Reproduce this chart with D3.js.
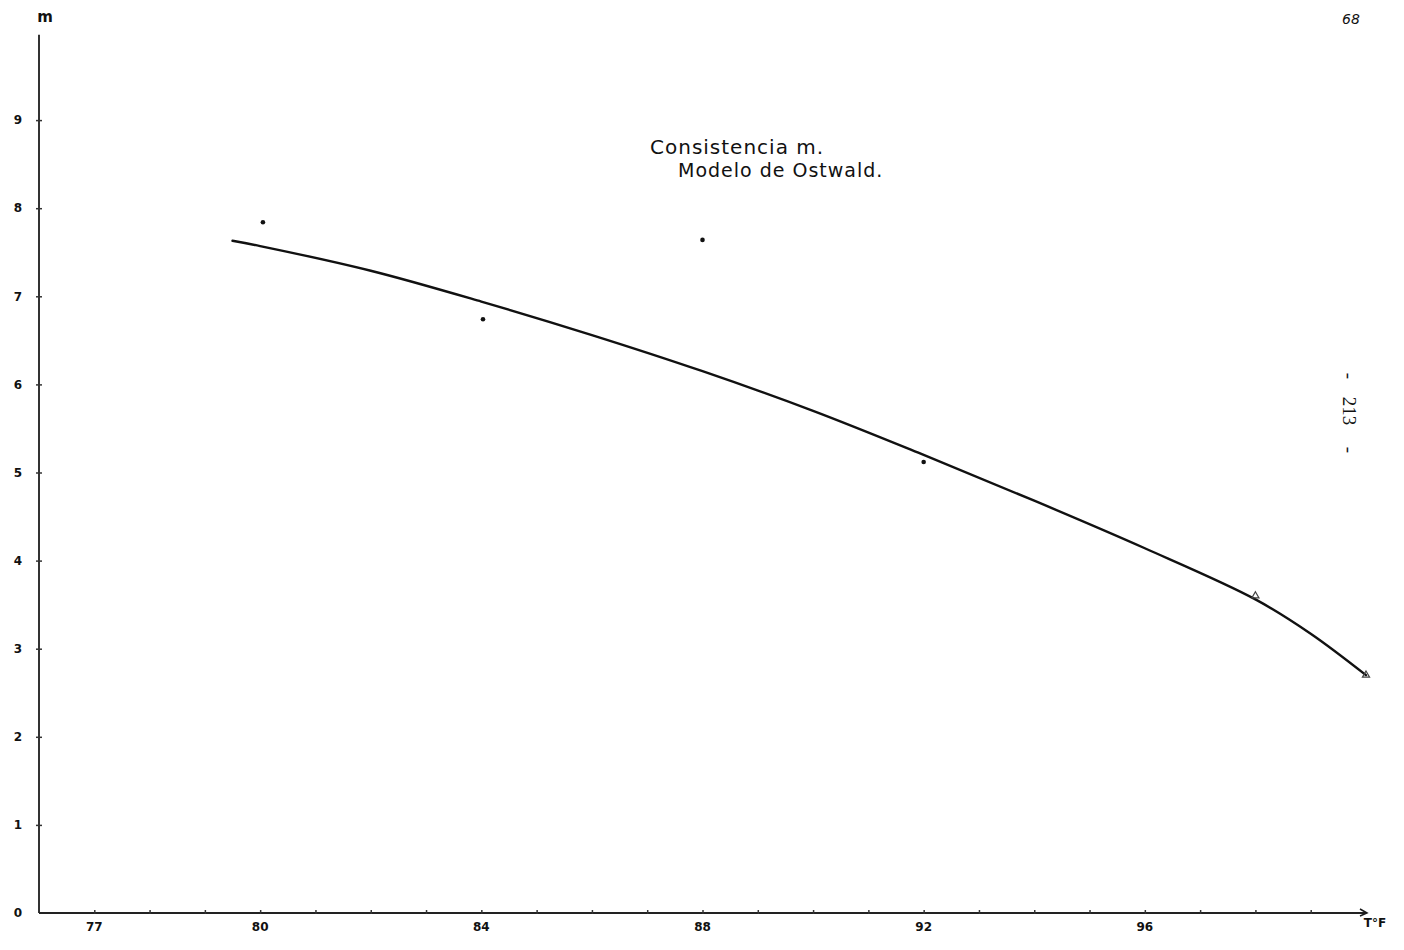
<!DOCTYPE html>
<html>
<head>
<meta charset="utf-8">
<script src="https://cdn.jsdelivr.net/npm/d3@7"></script>
<style>
  html, body { margin: 0; padding: 0; background: #fff; }
  svg { display: block; }
  .hand { font-family: "DejaVu Sans", sans-serif; fill: #111; }
</style>
</head>
<body>
<svg id="chart" width="1404" height="950"></svg>
<script>
// Consistency index m of the Ostwald (power-law) model against temperature (°F)

// fitted curve, read at regular temperatures
const curveT = [79.5, 80, 82, 84, 86, 88, 90, 92, 94, 96, 98, 99, 100];
const curveM = [7.63, 7.57, 7.29, 6.94, 6.56, 6.15, 5.70, 5.20, 4.68, 4.14, 3.56, 3.17, 2.70];

// measured points (dots)
const dotT = [80.05, 84.03, 88, 92];
const dotM = [7.84, 6.74, 7.64, 5.12];

// points marked with small triangles
const triT = [98, 100];
const triM = [3.6, 2.7];

// axis ticks and labels
const yTicks = [1, 2, 3, 4, 5, 6, 7, 8, 9];
const yLabels = ["0", "1", "2", "3", "4", "5", "6", "7", "8", "9"];
const xMinorTicks = d3.range(77, 100);
const xLabelValues = [77, 80, 84, 88, 92, 96];
const xLabels = ["77", "80", "84", "88", "92", "96"];

const svg = d3.select("#chart");

const x = d3.scaleLinear().domain([76, 100]).range([39, 1366]);
const y = d3.scaleLinear().domain([0, 10]).range([913, 32]);

const ink = "#1a1a1a";

// y axis
const yAxis = d3.axisLeft(y).tickValues(yTicks).tickSize(0).tickFormat("");
const gy = svg.append("g").attr("transform", `translate(${x(76)},0)`).call(yAxis);
gy.select(".domain").attr("stroke", "#333").attr("stroke-width", 2).attr("d", `M0,${y(0)}V${y(9.97)}`);
gy.selectAll(".tick line").attr("x1", -3).attr("x2", 3).attr("stroke", "#333").attr("stroke-width", 1.5);

// y tick labels (including zero)
svg.append("g").selectAll("text")
  .data(yLabels)
  .join("text")
  .attr("class", "hand")
  .attr("x", (d, i) => x(76) - 21)
  .attr("y", (d, i) => y(i))
  .attr("dy", "0.35em")
  .attr("text-anchor", "middle")
  .attr("font-size", 12)
  .attr("font-weight", "bold")
  .text(d => d);

svg.append("text").attr("class", "hand")
  .attr("x", x(76) + 6).attr("y", 22)
  .attr("text-anchor", "middle")
  .attr("font-size", 15)
  .attr("font-weight", "bold")
  .text("m");

// x axis
const xAxis = d3.axisBottom(x).tickValues(xMinorTicks).tickSize(0).tickFormat("");
const gx = svg.append("g").attr("transform", `translate(0,${y(0)})`).call(xAxis);
gx.select(".domain").attr("stroke", "#222").attr("stroke-width", 2.2).attr("d", `M${x(76)},0H${x(100)}`);
gx.selectAll(".tick line").attr("y1", -3).attr("y2", 1).attr("stroke", "#333").attr("stroke-width", 1.5);

// arrow head at the end of the x axis
svg.append("path")
  .attr("d", `M${x(100) - 6},${y(0) - 4}L${x(100) + 1},${y(0)}L${x(100) - 6},${y(0) + 3}`)
  .attr("fill", "none").attr("stroke", ink).attr("stroke-width", 1.5);

svg.append("g").selectAll("text")
  .data(xLabelValues)
  .join("text")
  .attr("class", "hand")
  .attr("x", d => x(d))
  .attr("y", y(0) + 18)
  .attr("text-anchor", "middle")
  .attr("font-size", 12)
  .attr("font-weight", "bold")
  .text((d, i) => xLabels[i]);

svg.append("text").attr("class", "hand")
  .attr("x", x(100) + 9).attr("y", y(0) + 14)
  .attr("text-anchor", "middle")
  .attr("font-size", 12)
  .attr("font-weight", "bold")
  .text("T°F");

// fitted curve
const line = d3.line()
  .x(d => x(d[0]))
  .y(d => y(d[1]))
  .curve(d3.curveCatmullRom.alpha(0.5));

svg.append("path")
  .datum(curveT.map((t, i) => [t, curveM[i]]))
  .attr("d", line)
  .attr("fill", "none")
  .attr("stroke", "#111")
  .attr("stroke-width", 2.4)
  .attr("stroke-linecap", "round");

// measured dots
svg.append("g").selectAll("circle")
  .data(dotT)
  .join("circle")
  .attr("cx", d => x(d))
  .attr("cy", (d, i) => y(dotM[i]))
  .attr("r", 2.3)
  .attr("fill", "#111");

// triangle markers
svg.append("g").selectAll("path")
  .data(triT)
  .join("path")
  .attr("transform", (d, i) => `translate(${x(d)},${y(triM[i])})`)
  .attr("d", d3.symbol(d3.symbolTriangle, 22))
  .attr("fill", "none")
  .attr("stroke", "#444")
  .attr("stroke-width", 1.2);

// titles
svg.append("text").attr("class", "hand")
  .attr("x", 650).attr("y", 154)
  .attr("font-size", 20)
  .attr("letter-spacing", 1)
  .text("Consistencia m.");

svg.append("text").attr("class", "hand")
  .attr("x", 678).attr("y", 177)
  .attr("font-size", 19)
  .attr("letter-spacing", 1)
  .text("Modelo de Ostwald.");

// page number
svg.append("text").attr("class", "hand")
  .attr("x", 1351).attr("y", 24)
  .attr("text-anchor", "middle")
  .attr("font-size", 14)
  .attr("font-style", "italic")
  .text("68");

// vertical page marker "- 213 -"
const pageMark = svg.append("g")
  .attr("font-family", "'Liberation Serif', serif")
  .attr("font-size", 19)
  .attr("fill", "#111")
  .attr("text-anchor", "middle");
[["-", 376], ["213", 411], ["-", 450]].forEach(([s, cy]) => {
  pageMark.append("text")
    .attr("transform", `translate(1350,${cy}) rotate(90)`)
    .attr("dy", "0.35em")
    .text(s);
});
</script>
</body>
</html>
